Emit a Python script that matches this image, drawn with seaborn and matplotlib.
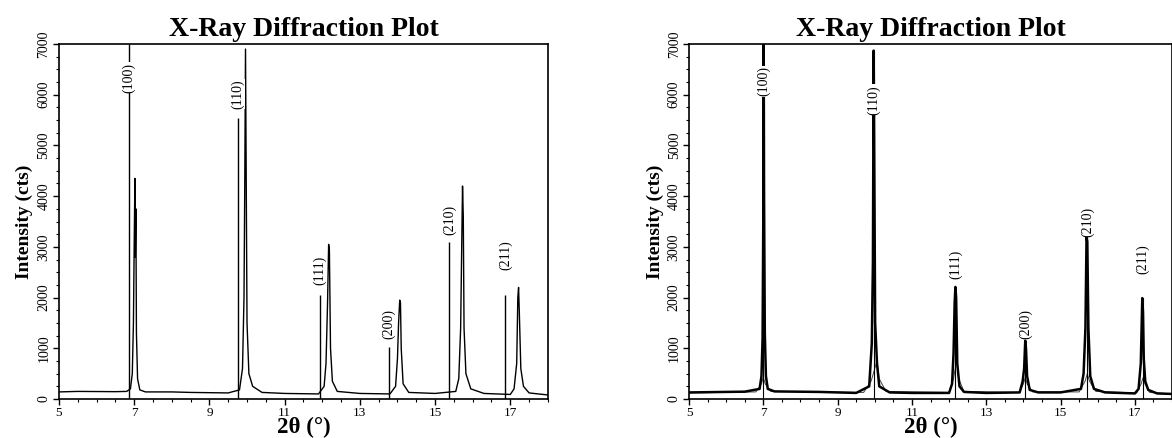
import matplotlib
matplotlib.use("Agg")
import matplotlib.pyplot as plt
from matplotlib.ticker import MultipleLocator
import seaborn as sns
import pandas as pd

sns.set_style("ticks")
plt.rcParams["font.family"] = ["Liberation Serif", "DejaVu Serif"]
plt.rcParams.update({"text.color": "black", "axes.labelcolor": "black",
                     "xtick.color": "black", "ytick.color": "black",
                     "axes.edgecolor": "black"})

# ---------------- data: left panel (measured pattern) ----------------
left_two_theta = [5.0, 5.5, 6.5, 6.8, 6.9, 6.95, 6.98, 7.0, 7.02, 7.03, 7.045, 7.06, 7.09, 7.15, 7.3,
                  8.0, 8.5, 9.5, 9.8, 9.88, 9.92, 9.94, 9.96, 9.98, 10.0, 10.05, 10.15, 10.4,
                  11.0, 11.9, 12.05, 12.1, 12.14, 12.17, 12.19, 12.22, 12.27, 12.4,
                  13.0, 13.8, 13.95, 14.0, 14.03, 14.06, 14.08, 14.1, 14.15, 14.3,
                  15.0, 15.55, 15.63, 15.68, 15.71, 15.73, 15.75, 15.77, 15.82, 15.95, 16.3,
                  17.0, 17.1, 17.17, 17.2, 17.22, 17.24, 17.28, 17.35, 17.5, 18.0]
left_intensity = [140, 150, 145, 150, 200, 500, 1500, 3000, 4350, 2800, 3750, 1300, 400, 180, 140,
                  140, 130, 120, 180, 600, 2000, 4200, 6900, 4200, 1500, 500, 250, 130,
                  110, 100, 250, 700, 1850, 3050, 2950, 1000, 350, 150,
                  110, 100, 250, 800, 1500, 1950, 1900, 1000, 300, 130,
                  110, 150, 400, 1400, 3100, 4200, 3600, 1400, 500, 200, 110,
                  90, 200, 700, 2000, 2200, 1700, 600, 250, 120, 80]
left_stick_pos = [6.85, 9.75, 11.93, 13.77, 15.38, 16.87]
left_stick_height = [7000, 5550, 2060, 1025, 3100, 2060]
left_label_y = [6040, 5720, 2240, 1190, 3230, 2540]

# ---------------- data: right panel (observed + calculated) ----------------
right_two_theta = [5.0, 6.5, 6.9, 6.95, 6.98, 7.0, 7.01, 7.02, 7.04, 7.07, 7.12, 7.3,
                   8.5, 9.5, 9.85, 9.92, 9.95, 9.97, 9.99, 10.01, 10.06, 10.12, 10.4,
                   11.0, 12.0, 12.08, 12.12, 12.15, 12.17, 12.19, 12.22, 12.28, 12.4,
                   13.0, 13.9, 13.98, 14.02, 14.05, 14.07, 14.1, 14.17, 14.4,
                   15.0, 15.55, 15.62, 15.67, 15.7, 15.72, 15.75, 15.8, 15.9, 16.2,
                   17.0, 17.1, 17.16, 17.2, 17.22, 17.24, 17.28, 17.36, 17.6, 18.0]
right_observed = [130, 145, 200, 450, 1200, 3700, 7000, 4000, 1300, 450, 200, 150,
                  140, 120, 250, 1100, 2700, 6870, 4200, 1500, 700, 250, 130,
                  120, 120, 300, 900, 1900, 2210, 2000, 700, 250, 140,
                  120, 130, 350, 600, 1150, 1000, 450, 180, 130,
                  130, 200, 500, 1400, 3200, 3100, 1400, 450, 200, 130,
                  110, 200, 700, 1990, 1700, 800, 350, 180, 110, 100]
right_calc_theta = [5.0, 6.8, 6.95, 7.0, 7.05, 7.2, 9.7, 9.9, 10.0, 10.06, 10.12, 10.3,
                    12.0, 12.12, 12.2, 12.26, 12.4, 13.9, 14.0, 14.05, 14.1, 14.25,
                    15.5, 15.66, 15.72, 15.78, 15.95, 17.05, 17.17, 17.22, 17.27, 17.4, 18.0]
right_calc = [120, 140, 300, 430, 300, 150, 130, 350, 600, 760, 400, 150,
              130, 400, 760, 400, 150, 130, 300, 420, 300, 140,
              140, 350, 500, 350, 150, 120, 300, 420, 300, 130, 100]
right_stick_pos = [7.0, 9.98, 12.17, 14.05, 15.72, 17.22]
right_stick_height = [7000, 6870, 2210, 1150, 3200, 1990]
right_label_y = [5970, 5610, 2370, 1190, 3200, 2470]

hkl_labels = ["(100)", "(110)", "(111)", "(200)", "(210)", "(211)"]
x_ticks = [5, 7, 9, 11, 13, 15, 17]
y_ticks = [0, 1000, 2000, 3000, 4000, 5000, 6000, 7000]

fig = plt.figure(figsize=(11.72, 4.38), dpi=100)
ax_l = fig.add_axes([0.0503, 0.089, 0.4172, 0.8105])
ax_r = fig.add_axes([0.5879, 0.089, 0.4121, 0.8105])


def style_axes(ax):
    ax.set_xlim(5, 18)
    ax.set_ylim(0, 7000)
    ax.set_xticks(x_ticks)
    ax.set_yticks(y_ticks)
    ax.xaxis.set_minor_locator(MultipleLocator(0.5))
    ax.yaxis.set_minor_locator(MultipleLocator(250))
    ax.tick_params(which="major", direction="out", length=4, width=1, color="black",
                   labelcolor="black", labelsize=9.5, pad=1.5)
    ax.tick_params(which="minor", direction="out", length=2, width=0.8, color="black")
    ax.tick_params(axis="y", labelrotation=90, labelsize=10, pad=2)
    for lab in ax.get_yticklabels():
        lab.set_va("center")
    for s in ax.spines.values():
        s.set_linewidth(1.2)
        s.set_color("black")
    ax.set_title("X-Ray Diffraction Plot", fontsize=20, fontweight="bold", pad=6,
                 color="black")
    ax.set_xlabel("2θ (°)", fontsize=16.5, fontweight="bold", labelpad=-1, color="black")
    ax.set_ylabel("Intensity (cts)", fontsize=14, fontweight="bold", labelpad=3,
                  color="black")


# left panel
df_l = pd.DataFrame({"two_theta": left_two_theta, "intensity": left_intensity})
sns.lineplot(data=df_l, x="two_theta", y="intensity", ax=ax_l, color="black",
             linewidth=1.0, estimator=None, sort=False)
ax_l.vlines(left_stick_pos, 0, left_stick_height, color="black", linewidth=1.0)
for x, y, t in zip(left_stick_pos, left_label_y, hkl_labels):
    ax_l.text(x, y, t, rotation=90, ha="center", va="bottom", fontsize=10, color="black",
              bbox=dict(facecolor="white", edgecolor="none", pad=0.3))
style_axes(ax_l)

# right panel
df_rc = pd.DataFrame({"two_theta": right_calc_theta, "intensity": right_calc})
df_ro = pd.DataFrame({"two_theta": right_two_theta, "intensity": right_observed})
sns.lineplot(data=df_rc, x="two_theta", y="intensity", ax=ax_r, color="#444444",
             linewidth=0.7, estimator=None, sort=False)
sns.lineplot(data=df_ro, x="two_theta", y="intensity", ax=ax_r, color="black",
             linewidth=1.8, estimator=None, sort=False)
ax_r.vlines(right_stick_pos, 0, right_stick_height, color="black", linewidth=0.8)
for x, y, t in zip(right_stick_pos, right_label_y, hkl_labels):
    ax_r.text(x, y, t, rotation=90, ha="center", va="bottom", fontsize=10, color="black",
              bbox=dict(facecolor="white", edgecolor="none", pad=0.3))
style_axes(ax_r)

fig.savefig("out.png", dpi=100)
